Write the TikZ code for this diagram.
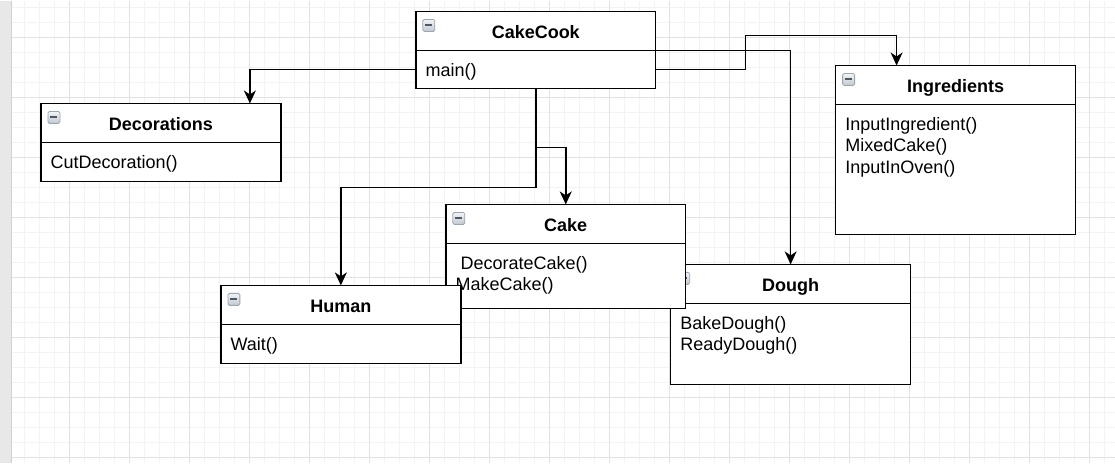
\documentclass[tikz,border=0pt]{standalone}
\usepackage{fontspec}
\setmainfont{Liberation Sans}
\usetikzlibrary{arrows.meta, positioning}
\definecolor{gridmin}{HTML}{F3F3F3}
\definecolor{gridmaj}{HTML}{E2E2E2}
\definecolor{gutter}{HTML}{E8E8E8}
\definecolor{gutterline}{HTML}{D0D0D0}
\definecolor{iconedge}{HTML}{9AA6B2}
\definecolor{icontop}{HTML}{F2F4F6}
\definecolor{iconbot}{HTML}{C0C8D0}
\definecolor{iconbar}{HTML}{4F5862}

\begin{document}
\begin{tikzpicture}[
                x = 1pt, y = -1pt, % pixel units, y grows downwards
                > = {Stealth[length=13pt, width=12pt, inset=4pt]}, % arrow head style
                line width = 1.5pt % line style
            ]

            \tikzstyle{head}=[draw = black, fill = white, anchor = north west,
            minimum width = 240pt, minimum height = 39pt, inner sep = 0pt,
            outer sep = 0pt, text height = 18pt, text depth = 2pt,
            font = \fontsize{18}{21.6}\selectfont\bfseries,
            path picture = {
                \coordinate (ic) at ([shift={(7pt,-8pt)}]path picture bounding box.north west);
                \shadedraw[draw = iconedge, line width = 0.8pt, rounded corners = 1.5pt,
                top color = icontop, bottom color = iconbot] (ic) rectangle ++(12pt,-12pt);
                \draw[draw = iconbar, line width = 2pt] ([shift={(2.5pt,-6pt)}]ic) -- ++(7pt,0pt);
            }]
            \tikzstyle{body}=[draw = black, fill = white, anchor = north west,
            minimum width = 240pt, inner sep = 0pt, outer sep = 0pt]
            \tikzstyle{ops}=[anchor = north west, inner sep = 0pt, align = left,
            font = \fontsize{18}{21.6}\selectfont]

            % background grid and left gutter
            \fill[white] (0,0) rectangle (1115,463);
            \begin{scope}[shift={(10,7)}]
                \draw[gridmin, line width = 1pt, step = 15pt] (1,-7) grid (1105,456);
            \end{scope}
            \begin{scope}[shift={(10,37)}]
                \draw[gridmaj, line width = 1pt, step = 60pt] (1,-37) grid (1105,426);
            \end{scope}
            \fill[gutter] (0,0) rectangle (11,463);
            \draw[gutterline, line width = 1pt] (11.5,0) -- (11.5,463);

            \node[head] (cook) at (416,11) {CakeCook};
            \node[body, minimum height = 38pt] (cookb) at (cook.south west) {};
            \node[ops] (cookops) at ([shift={(9,12)}]cookb.north west) {main()};

            \node[head] (deco) at (41,103) {Decorations};
            \node[body, minimum height = 39pt] (decob) at (deco.south west) {};
            \node[ops] (decoops) at ([shift={(9,12)}]decob.north west) {CutDecoration()};

            \node[head] (ingr) at (836,65) {Ingredients};
            \node[body, minimum height = 130pt] (ingrb) at (ingr.south west) {};
            \node[ops] (ingrops) at ([shift={(9,12)}]ingrb.north west)
            {InputIngredient()\\MixedCake()\\InputInOven()};

            \node[head] (dough) at (671,264) {Dough};
            \node[body, minimum height = 81pt] (doughb) at (dough.south west) {};
            \node[ops] (doughops) at ([shift={(9,12)}]doughb.north west)
            {BakeDough()\\ReadyDough()};

            \node[head] (cake) at (446,204) {Cake};
            \node[body, minimum height = 65pt] (cakeb) at (cake.south west) {};
            \node[ops] (cakeops) at ([shift={(9,12)}]cakeb.north west)
            {\kern5pt DecorateCake()\\MakeCake()};

            \node[head] (human) at (221,285) {Human};
            \node[body, minimum height = 39pt] (humanb) at (human.south west) {};
            \node[ops] (humanops) at ([shift={(9,12)}]humanb.north west) {Wait()};

            \coordinate (fork) at ([yshift=-59pt]cookb.south);

            \draw[->] (cookb.west) -| ([xshift=89pt]deco.north);
            \draw[->] (cookb.east) -- ++(90,0) -- ++(0,-34) -| ([xshift=-59pt]ingr.north);
            \draw[->] (cook.south east) -| (dough.north);
            \draw[->] (cookb.south) -- ++(0,99) -| (human.north);
            \draw[->] (fork) -| (cake.north);

            \useasboundingbox (0,0) rectangle (1115,463);

        \end{tikzpicture}
\end{document}
